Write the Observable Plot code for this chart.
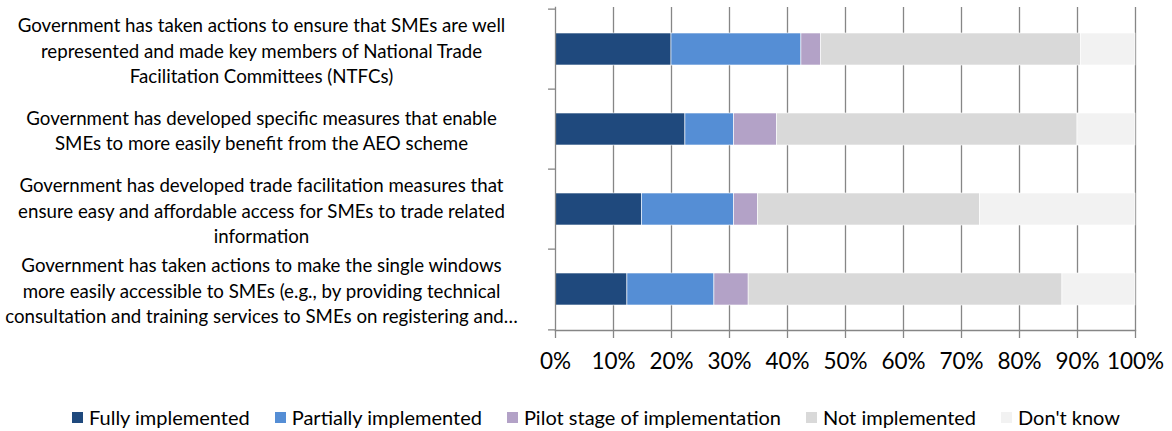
<!DOCTYPE html>
<html>
<head>
<meta charset="utf-8">
<script src="https://cdn.jsdelivr.net/npm/d3@7"></script>
<script src="https://cdn.jsdelivr.net/npm/@observablehq/plot@0.6"></script>
<style>
  html, body { margin: 0; padding: 0; background: #fff; }
  #chart { width: 1172px; height: 431px; position: relative; overflow: hidden; }
  #legend { position: absolute; top: 403px; left: 0; width: 1172px; height: 28px;
    display: flex; justify-content: center; align-items: center; gap: 25px;
    font-family: Lato, sans-serif; font-size: 20px; color: #000; padding-left: 20px; box-sizing: border-box; }
  .item { display: flex; align-items: center; white-space: nowrap; }
  .sw { width: 11px; height: 11px; margin-right: 6px; display: inline-block; }
</style>
</head>
<body>
<div id="chart"></div>
<script>
const categories = [
  "Government has taken actions to ensure that SMEs are well\nrepresented and made key members of National Trade\nFacilitation Committees (NTFCs)",
  "Government has developed specific measures that enable\nSMEs to more easily benefit from the AEO scheme",
  "Government has developed trade facilitation measures that\nensure easy and affordable access for SMEs to trade related\ninformation",
  "Government has taken actions to make the single windows\nmore easily accessible to SMEs (e.g., by providing technical\nconsultation and training services to SMEs on registering and…"
];
const seriesNames = ["Fully implemented", "Partially implemented", "Pilot stage of implementation", "Not implemented", "Don't know"];
const fully    = [20.0, 22.4, 14.9, 12.4];
const partial  = [22.4,  8.4, 15.9, 15.0];
const pilot    = [ 3.4,  7.4,  4.1,  5.9];
const notImpl  = [44.8, 51.8, 38.3, 54.1];
const dontKnow = [ 9.4, 10.0, 26.8, 12.6];
const xTicks = [0, 10, 20, 30, 40, 50, 60, 70, 80, 90, 100];
const colors = ["#1F497D", "#558ED5", "#B3A2C7", "#D9D9D9", "#F2F2F2"];

const seriesValues = [fully, partial, pilot, notImpl, dontKnow];
const rows = [];
categories.forEach((c, i) => {
  seriesNames.forEach((s, j) => rows.push({category: c, series: s, value: seriesValues[j][i]}));
});

const W = 1172, H = 395;
const mTop = 7, mBottom = 65, mLeft = 555, mRight = 37;
const step = (H - mTop - mBottom) / categories.length;
const gridColor = "#868686";

const chart = Plot.plot({
  width: W, height: H,
  marginTop: mTop, marginBottom: mBottom, marginLeft: mLeft, marginRight: mRight,
  style: {fontFamily: "Lato, sans-serif", background: "#fff", color: "#000"},
  x: {domain: [0, 100], ticks: xTicks, tickFormat: d => d + "%"},
  y: {domain: categories, paddingInner: 0.6, paddingOuter: 0.3, axis: null},
  color: {domain: seriesNames, range: colors},
  marks: [
    Plot.gridX(xTicks.slice(1), {stroke: gridColor, strokeOpacity: 1, strokeWidth: 1.3}),
    Plot.barX(rows, {y: "category", x: "value", fill: "series", order: seriesNames, stroke: "#fff", strokeWidth: 0.6}),
    Plot.frame({anchor: "left", stroke: gridColor, strokeWidth: 1.3}),
    Plot.frame({anchor: "bottom", stroke: gridColor, strokeWidth: 1.3}),
    Plot.ruleY(categories, {y: d => d, x1: -1.2, x2: 0, dy: -step / 2, stroke: gridColor, strokeWidth: 1.3, clip: false}),
    Plot.ruleY(categories.slice(-1), {y: d => d, x1: -1.2, x2: 0, dy: step / 2, stroke: gridColor, strokeWidth: 1.3, clip: false}),
    Plot.axisX({ticks: xTicks, tickFormat: d => d + "%", tickSize: 8, tickPadding: 15, stroke: gridColor, strokeWidth: 1.3, fontSize: 22.5, fill: "#000", label: null}),
    Plot.text(categories, {y: d => d, text: d => d, frameAnchor: "left", dx: -294, textAnchor: "middle", fontSize: 18.7, lineHeight: 1.365, fill: "#000"})
  ]
});

const root = document.getElementById("chart");
root.appendChild(chart);
const legend = document.createElement("div");
legend.id = "legend";
seriesNames.forEach((s, i) => {
  const it = document.createElement("div");
  it.className = "item";
  const sw = document.createElement("span");
  sw.className = "sw";
  sw.style.background = colors[i];
  it.appendChild(sw);
  it.appendChild(document.createTextNode(s));
  legend.appendChild(it);
});
root.appendChild(legend);
</script>
</body>
</html>
